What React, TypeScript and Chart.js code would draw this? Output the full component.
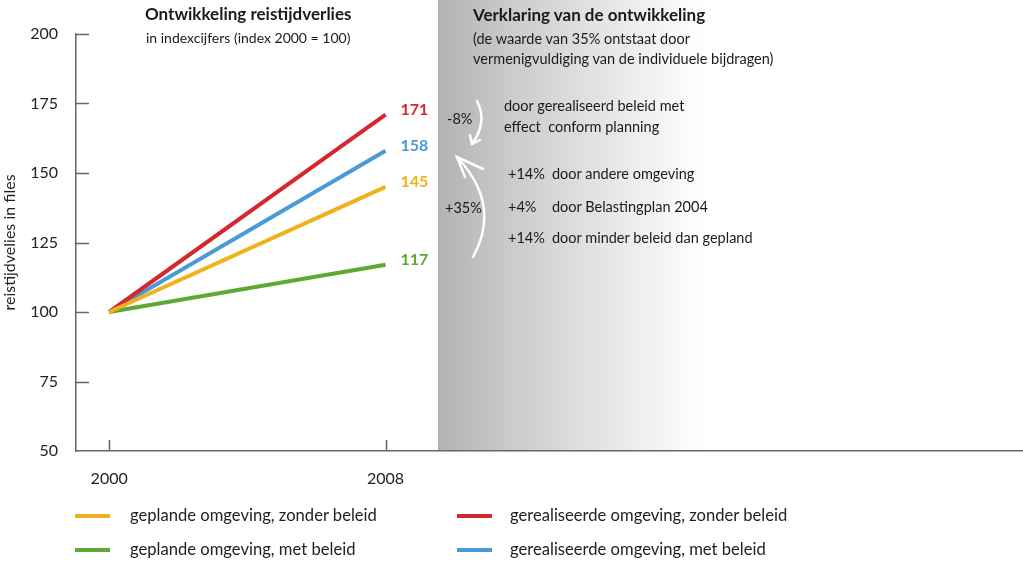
import React, { useEffect, useRef } from "react";
import { Chart, registerables } from "chart.js";

Chart.register(...registerables);

const years = [2000, 2008];
const seriesNames = [
  "geplande omgeving, zonder beleid",
  "geplande omgeving, met beleid",
  "gerealiseerde omgeving, zonder beleid",
  "gerealiseerde omgeving, met beleid",
];
const plannedNoPolicy = [100, 145];
const plannedWithPolicy = [100, 117];
const realisedNoPolicy = [100, 171];
const realisedWithPolicy = [100, 158];
const seriesColors = ["#f0b21c", "#5ea833", "#d6262e", "#4a9ad6"];
const yTickValues = [50, 75, 100, 125, 150, 175, 200];
const xTickValues = [2000, 2008];

const FONT = "Lato, 'Noto Sans', sans-serif";

const tickMarks = {
  id: "tickMarks",
  afterDraw(chart: any) {
    const ctx = chart.ctx;
    const y = chart.scales.y;
    const x = chart.scales.x;
    ctx.save();
    ctx.strokeStyle = "#666";
    ctx.lineWidth = 1.5;
    y.ticks.forEach((t: any) => {
      if (t.value === y.min) return;
      const py = Math.round(y.getPixelForValue(t.value)) + 0.5;
      ctx.beginPath();
      ctx.moveTo(x.left, py);
      ctx.lineTo(x.left + 13, py);
      ctx.stroke();
    });
    x.ticks.forEach((t: any) => {
      const px = Math.round(x.getPixelForValue(t.value)) + 0.5;
      ctx.beginPath();
      ctx.moveTo(px, y.bottom);
      ctx.lineTo(px, y.bottom - 11);
      ctx.stroke();
    });
    ctx.restore();
  },
};

const endLabels = {
  id: "endLabels",
  afterDatasetsDraw(chart: any) {
    const ctx = chart.ctx;
    ctx.save();
    ctx.font = `bold 16px ${FONT}`;
    ctx.textAlign = "left";
    ctx.textBaseline = "middle";
    chart.data.datasets.forEach((ds: any, i: number) => {
      const meta = chart.getDatasetMeta(i);
      const pt = meta.data[meta.data.length - 1];
      const v = ds.data[ds.data.length - 1].y;
      ctx.fillStyle = ds.borderColor;
      ctx.fillText(String(v), pt.x + 15, pt.y - 5);
    });
    ctx.restore();
  },
};

export default function App() {
  const ref = useRef<HTMLCanvasElement>(null);

  useEffect(() => {
    const values = [plannedNoPolicy, plannedWithPolicy, realisedNoPolicy, realisedWithPolicy];
    const chart = new Chart(ref.current as HTMLCanvasElement, {
      type: "line",
      data: {
        datasets: values.map((vals, i) => ({
          label: seriesNames[i],
          data: years.map((yr, j) => ({ x: yr, y: vals[j] })),
          borderColor: seriesColors[i],
          backgroundColor: seriesColors[i],
          borderWidth: 4,
          pointRadius: 0,
          borderCapStyle: "butt",
          tension: 0,
        })),
      },
      options: {
        animation: false,
        responsive: false,
        maintainAspectRatio: false,
        layout: { padding: { top: 34, left: 0, right: 0, bottom: 0 } },
        plugins: { legend: { display: false }, tooltip: { enabled: false } },
        scales: {
          x: {
            type: "linear",
            min: 1999.04,
            max: 2026.45,
            afterBuildTicks: (s: any) => {
              s.ticks = xTickValues.map((v) => ({ value: v }));
            },
            afterFit: (s: any) => {
              s.height = 110;
            },
            ticks: {
              color: "#222",
              font: { family: FONT, size: 16 },
              padding: 18,
              maxRotation: 0,
              callback: (v: any) => String(v),
            },
            grid: { display: false, drawTicks: false },
            border: { display: true, color: "#666", width: 1.5 },
          },
          y: {
            type: "linear",
            min: 50,
            max: 200,
            afterBuildTicks: (s: any) => {
              s.ticks = yTickValues.map((v) => ({ value: v }));
            },
            afterFit: (s: any) => {
              s.width = 76;
            },
            ticks: {
              color: "#222",
              font: { family: FONT, size: 16 },
              padding: 18,
            },
            grid: { display: false, drawTicks: false },
            border: { display: true, color: "#666", width: 1.5 },
            title: {
              display: true,
              text: "reistijdvelies in files",
              color: "#222",
              font: { family: FONT, size: 16 },
              padding: 0,
            },
          },
        },
      },
      plugins: [tickMarks, endLabels],
    } as any);
    return () => chart.destroy();
  }, []);

  const txt: React.CSSProperties = {
    position: "absolute",
    fontFamily: FONT,
    color: "#1a1a1a",
    whiteSpace: "pre",
    lineHeight: 1,
  };
  const P = 14.5;

  return (
    <div style={{ position: "absolute", left: 0, top: 0, width: 1023, height: 561, background: "#fff", overflow: "hidden" }}>
      <div
        style={{
          position: "absolute",
          left: 438,
          top: 0,
          width: 585,
          height: 451,
          background: "linear-gradient(to right, #b2b2b2 0px, #cdcdcd 80px, #e6e6e6 170px, #ffffff 265px, #ffffff 585px)",
        }}
      />
      <canvas ref={ref} width={1023} height={561} style={{ position: "absolute", left: 0, top: 0, width: 1023, height: 561 }} />
      <svg width={1023} height={561} style={{ position: "absolute", left: 0, top: 0, pointerEvents: "none" }}>
        <g fill="none" stroke="#fff" strokeWidth={2.5} strokeLinecap="round">
          <path d="M 477 101 Q 488 122 472 144" />
          <path d="M 470 135 L 472 144 L 480 140" />
          <path d="M 473 257 Q 502 205 457 157" />
          <path d="M 483 169 L 457 157 L 465 177" />
        </g>
      </svg>
      <div style={{ ...txt, left: 145, top: 5, fontSize: 17, fontWeight: 700 }}>Ontwikkeling reistijdverlies</div>
      <div style={{ ...txt, left: 146, top: 31, fontSize: 14 }}>in indexcijfers (index 2000 = 100)</div>

      <div style={{ ...txt, left: 473, top: 6, fontSize: 17, fontWeight: 700 }}>Verklaring van de ontwikkeling</div>
      <div style={{ ...txt, left: 473, top: 32, fontSize: P }}>(de waarde van 35% ontstaat door</div>
      <div style={{ ...txt, left: 473, top: 52, fontSize: P }}>vermenigvuldiging van de individuele bijdragen)</div>

      <div style={{ ...txt, left: 447, top: 112, fontSize: P }}>-8%</div>
      <div style={{ ...txt, left: 504, top: 99, fontSize: P }}>door gerealiseerd beleid met</div>
      <div style={{ ...txt, left: 504, top: 120, fontSize: P }}>effect  conform planning</div>

      <div style={{ ...txt, left: 445, top: 201, fontSize: P }}>+35%</div>
      <div style={{ ...txt, left: 508, top: 167, fontSize: P }}>+14%</div>
      <div style={{ ...txt, left: 552, top: 167, fontSize: P }}>door andere omgeving</div>
      <div style={{ ...txt, left: 508, top: 200, fontSize: P }}>+4%</div>
      <div style={{ ...txt, left: 552, top: 200, fontSize: P }}>door Belastingplan 2004</div>
      <div style={{ ...txt, left: 508, top: 231, fontSize: P }}>+14%</div>
      <div style={{ ...txt, left: 552, top: 231, fontSize: P }}>door minder beleid dan gepland</div>

      {[0, 1, 2, 3].map((i) => {
        const col = i < 2 ? 0 : 1;
        const row = i % 2;
        const sx = col === 0 ? 75 : 457;
        const tx = col === 0 ? 130 : 510;
        const cy = row === 0 ? 516 : 550;
        return (
          <React.Fragment key={i}>
            <div style={{ position: "absolute", left: sx, top: cy - 2, width: 35, height: 4, background: seriesColors[i] }} />
            <div style={{ ...txt, left: tx, top: cy - 9, fontSize: 16.6, color: "#222" }}>{seriesNames[i]}</div>
          </React.Fragment>
        );
      })}
    </div>
  );
}
